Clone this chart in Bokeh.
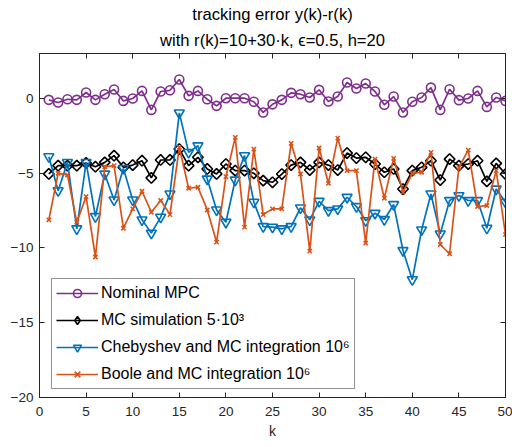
import math
from bokeh.plotting import figure
from bokeh.models import (LinearAxis, Title, Legend, LegendItem, FixedTicker, Range1d,
                          ColumnDataSource)
from bokeh.embed import file_html
from bokeh.resources import INLINE

k = list(range(1, 51))

nominal_mpc = [-0.1, -0.28, -0.06, -0.1, 0.39, -0.1, 0.28, 0.59, -0.17, -0.01,
               0.5, -0.77, 0.46, 0.54, 1.26, 0.17, 0.5, -0.06, -0.5, 0.01,
               0.01, 0.01, -0.23, -0.94, -0.4, -0.1, 0.37, 0.28, 0.06, 0.57,
               -0.21, 0.12, 1.06, 0.66, 0.99, 0.46, -0.43, 0.12, -0.94, -0.23,
               0.06, 0.72, -0.77, 0.61, -0.12, -0.01, 0.5, -0.57, 0.06, -0.17]

mc_simulation = [-5.05, -4.5, -4.5, -4.5, -4.32, -4.57, -4.28, -3.83, -4.61, -4.46,
                 -4.17, -5.32, -4.12, -4.12, -3.39, -4.5, -3.94, -4.72, -5.05, -4.39,
                 -4.83, -4.83, -5.01, -5.5, -5.61, -5.06, -4.46, -4.28, -4.79, -4.28,
                 -4.46, -4.79, -3.66, -3.99, -3.94, -4.39, -4.94, -4.72, -6.06, -4.83,
                 -4.61, -4.17, -5.46, -4.06, -4.5, -4.39, -4.17, -5.55, -4.35, -5.06]

chebyshev = [-3.9, -6.17, -4.28, -8.72, -4.28, -7.9, -5.06, -6.79, -4.68, -6.79,
             -8.12, -9.01, -7.94, -6.39, -0.97, -3.61, -3.17, -5.39, -7.46, -8.28,
             -5.46, -3.83, -6.94, -8.57, -8.61, -8.72, -8.57, -7.32, -8.12, -6.88,
             -7.5, -7.39, -6.61, -7.23, -8.17, -7.68, -8.1, -7.1, -10.17, -12.12,
             -8.79, -6.39, -9.06, -6.83, -6.5, -6.83, -6.83, -8.68, -6.06, -6.94]

boole = [-8.12, -5.01, -5.12, -8.28, -6.57, -10.61, -4.57, -4.5, -8.68, -7.39,
         -6.21, -7.61, -6.83, -7.77, -3.28, -6.01, -5.94, -7.46, -9.61, -5.23,
         -2.61, -8.61, -3.39, -7.77, -7.39, -7.39, -3.01, -5.06, -10.21, -3.32,
         -5.68, -2.66, -4.83, -4.83, -9.68, -4.06, -6.68, -4.01, -6.28, -5.01,
         -4.94, -3.61, -9.77, -10.39, -4.61, -3.46, -7.23, -7.17, -4.83, -9.1]

labels = ["Nominal MPC", "MC simulation 5\u00b710\u00b3",
          "Chebyshev and MC integration 10\u2076", "Boole and MC integration 10\u2076"]
x_ticks = [0, 5, 10, 15, 20, 25, 30, 35, 40, 45, 50]
y_ticks = [-20, -15, -10, -5, 0]

FONT = "Liberation Sans"
AX = "#262626"

p = figure(width=512, height=447, output_backend="svg", toolbar_location=None,
           x_range=Range1d(0, 50), y_range=Range1d(-20, 3),
           min_border_left=39, min_border_right=7, min_border_top=53, min_border_bottom=50)
# a range far away, only so that the legend-only diamond renderer draws nothing in the frame
p.extra_x_ranges = {"legend_only": Range1d(1000, 1050)}
p.background_fill_color = "white"
p.border_fill_color = "white"
p.outline_line_color = AX
p.outline_line_width = 1
p.xgrid.visible = False
p.ygrid.visible = False

bottom_ax = p.below[0]
left_ax = p.left[0]

top_ax = LinearAxis(ticker=FixedTicker(ticks=x_ticks), major_label_text_font_size="0px",
                    major_tick_in=5, major_tick_out=0, minor_tick_line_color=None,
                    axis_line_color=AX, major_tick_line_color=AX, major_label_standoff=0)
right_ax = LinearAxis(ticker=FixedTicker(ticks=y_ticks), major_label_text_font_size="0px",
                      major_tick_in=5, major_tick_out=0, minor_tick_line_color=None,
                      axis_line_color=AX, major_tick_line_color=AX, major_label_standoff=0)
p.add_layout(top_ax, "above")
p.add_layout(right_ax, "right")

sub = Title(text="with r(k)=10+30\u00b7k, \u03f5=0.5, h=20", align="center",
            text_font=FONT, text_font_size="16.6px", text_font_style="normal",
            text_color="black", standoff=7, offset=0)
main = Title(text="tracking error y(k)-r(k)", align="center",
             text_font=FONT, text_font_size="16.6px", text_font_style="normal",
             text_color="black", standoff=4, offset=0)
p.add_layout(sub, "above")
p.add_layout(main, "above")

for ax in (bottom_ax, left_ax):
    ax.axis_line_color = AX
    ax.major_tick_line_color = AX
    ax.minor_tick_line_color = None
    ax.major_tick_in = 5
    ax.major_tick_out = 0
    ax.major_label_text_font = FONT
    ax.major_label_text_font_size = "13.5px"
    ax.major_label_text_color = AX
bottom_ax.ticker = FixedTicker(ticks=x_ticks)
left_ax.ticker = FixedTicker(ticks=y_ticks)
bottom_ax.major_label_standoff = 9
left_ax.major_label_standoff = 6
bottom_ax.axis_label = "k"
bottom_ax.axis_label_text_font = FONT
bottom_ax.axis_label_text_font_size = "14px"
bottom_ax.axis_label_text_font_style = "normal"
bottom_ax.axis_label_text_color = AX
bottom_ax.axis_label_standoff = 4

PURPLE = "#7E2F8E"
BLUE = "#0072BD"
ORANGE = "#D95319"
LW = 1.7

mc_src = ColumnDataSource(data=dict(k=k, v=mc_simulation))

l1 = p.line(k, nominal_mpc, line_color=PURPLE, line_width=LW)
m1 = p.scatter(k, nominal_mpc, marker="circle", size=9, fill_color="white", fill_alpha=0,
               line_color=PURPLE, line_width=1.6)
l2 = p.line("k", "v", source=mc_src, line_color="black", line_width=LW)
m2 = p.scatter("k", "v", source=mc_src, marker="square", angle=math.pi / 4, size=7.5,
               fill_color="white", fill_alpha=0, line_color="black", line_width=1.6)
m2_leg = p.scatter("k", "v", source=mc_src, x_range_name="legend_only",
                   marker="diamond", size=13,
                   fill_color="white", fill_alpha=0, line_color="black", line_width=1.6)
l3 = p.line(k, chebyshev, line_color=BLUE, line_width=LW)
m3 = p.scatter(k, chebyshev, marker="inverted_triangle", size=10, fill_color="white", fill_alpha=0,
               line_color=BLUE, line_width=1.6)
l4 = p.line(k, boole, line_color=ORANGE, line_width=LW)
m4 = p.scatter(k, boole, marker="x", size=6, line_color=ORANGE, line_width=1.6)

items = [LegendItem(label=labels[0], renderers=[l1, m1]),
         LegendItem(label=labels[1], renderers=[l2, m2_leg]),
         LegendItem(label=labels[2], renderers=[l3, m3]),
         LegendItem(label=labels[3], renderers=[l4, m4])]
legend = Legend(items=items, location=(12, 8), orientation="vertical",
                label_text_font=FONT, label_text_font_size="16px", label_text_color="black",
                glyph_width=42, glyph_height=20, label_height=20, label_standoff=3,
                spacing=7, padding=4, margin=0,
                border_line_color=AX, border_line_width=1,
                background_fill_color="white", background_fill_alpha=1)
p.add_layout(legend, "center")

open("out.html", "w").write(file_html(p, INLINE))
